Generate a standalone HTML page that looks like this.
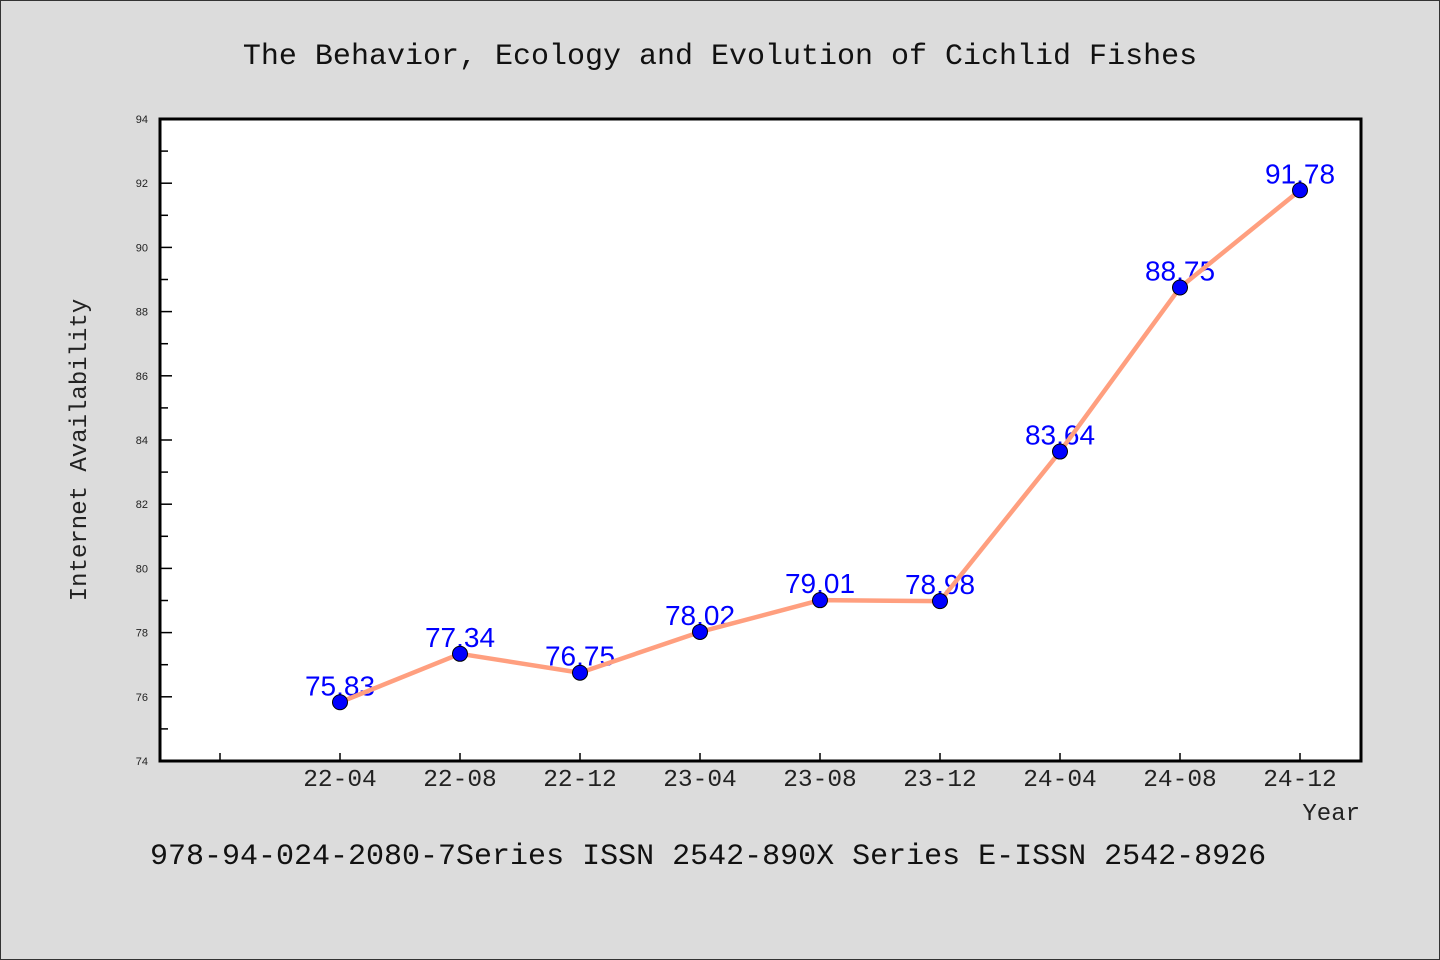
<!DOCTYPE html>
<html><head><meta charset="utf-8"><style>
html,body{margin:0;padding:0;background:#dcdcdc;}
svg{display:block;}
</style></head><body>
<svg id="chart" width="1440" height="960" xmlns="http://www.w3.org/2000/svg">
<rect x="0.5" y="0.5" width="1439" height="959" fill="#dcdcdc" stroke="#333"/>
<text x="720" y="64" text-anchor="middle" font-family="Liberation Mono, monospace" font-size="30" fill="#111">The Behavior, Ecology and Evolution of Cichlid Fishes</text>
<rect x="160" y="119" width="1201" height="642" fill="#fff"/>
<g id="axes"></g>
<g id="labels"></g>
<g id="series"></g>
<rect x="160" y="119" width="1201" height="642" fill="none" stroke="#000" stroke-width="3"/>
<text x="86" y="450" text-anchor="middle" transform="rotate(-90 86 450)" font-family="Liberation Mono, monospace" font-size="24" fill="#222">Internet Availability</text>
<text x="1360" y="820" text-anchor="end" font-family="Liberation Mono, monospace" font-size="24" fill="#222">Year</text>
<text x="150" y="864" font-family="Liberation Mono, monospace" font-size="30" fill="#111">978-94-024-2080-7Series ISSN 2542-890X Series E-ISSN 2542-8926</text>
</svg>
<script>
const categories = ["22-04","22-08","22-12","23-04","23-08","23-12","24-04","24-08","24-12"];
const values = [75.83,77.34,76.75,78.02,79.01,78.98,83.64,88.75,91.78];
const yTicks = [74,76,78,80,82,84,86,88,90,92,94];
const NS="http://www.w3.org/2000/svg";
const yMin=74,yMax=94,plotTop=119,plotBot=761,plotLeft=160;
function y(v){return plotBot-(v-yMin)/(yMax-yMin)*(plotBot-plotTop);}
function x(i){return 340+120*i;}
function mk(tag,attrs,parent){const e=document.createElementNS(NS,tag);for(const k in attrs)e.setAttribute(k,attrs[k]);parent.appendChild(e);return e;}
const axes=document.getElementById('axes'),labels=document.getElementById('labels'),series=document.getElementById('series');
yTicks.forEach(t=>{
  const l=mk('line',{x1:plotLeft,x2:plotLeft+12,y1:y(t),y2:y(t),stroke:'#000','stroke-width':1.5},axes);
  
  
  const tx=mk('text',{x:plotLeft-12,y:y(t)+4,'text-anchor':'end','font-family':'Liberation Sans, sans-serif','font-size':11,fill:'#222'},axes);
  tx.textContent=t;
  
  
  if(t<yMax){const m=mk('line',{x1:plotLeft,x2:plotLeft+8,y1:y(t+1),y2:y(t+1),stroke:'#000','stroke-width':1.5},axes);
  
  }
});
const t0=mk('line',{x1:x(-1),x2:x(-1),y1:plotBot,y2:plotBot-8,stroke:'#000','stroke-width':1.5},axes);


categories.forEach((c,i)=>{
  const l=mk('line',{x1:x(i),x2:x(i),y1:plotBot,y2:plotBot-8,stroke:'#000','stroke-width':1.5},axes);
  
  
  const tx=mk('text',{x:x(i),y:plotBot+25,'text-anchor':'middle','font-family':'Liberation Mono, monospace','font-size':24.5,fill:'#222'},axes);
  tx.textContent=c;
  
  
  const dl=mk('text',{x:x(i),y:y(values[i])-7,'text-anchor':'middle','font-family':'Liberation Sans, sans-serif','font-size':28,fill:'#0000ff'},labels);
  dl.textContent=values[i].toFixed(2);
  
  
});
const pl=mk('polyline',{points:values.map((v,i)=>x(i)+','+y(v)).join(' '),fill:'none',stroke:'#ff9f7f','stroke-width':4.5,'stroke-linejoin':'round'},series);


values.forEach((v,i)=>{
  const c=mk('circle',{cx:x(i),cy:y(v),r:7.5,fill:'#0000ff',stroke:'#000','stroke-width':1},series);
  
  
});
</script>
</body></html>
